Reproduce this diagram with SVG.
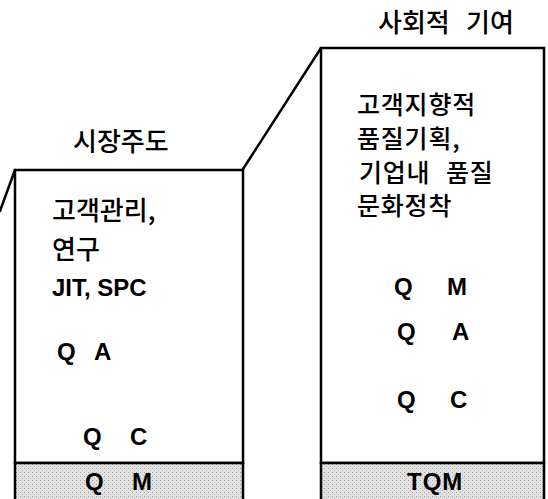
<svg xmlns="http://www.w3.org/2000/svg" width="548" height="499" viewBox="0 0 548 499">
<style>
.box{fill:#fff;stroke:#000;stroke-width:2.5}
.band{fill:url(#dots);stroke:#000;stroke-width:2.5}
.ln{stroke:#000;stroke-width:2.5;fill:none;stroke-linecap:round}
.ko{font-family:"Noto Sans CJK KR","Noto Sans",sans-serif;font-size:26px;font-weight:500;fill:#000}
.kr{font-family:"Noto Sans CJK KR","Noto Sans",sans-serif;font-size:25px;font-weight:500;fill:#000;letter-spacing:0.8px}
.la{font-family:"Liberation Sans",Arial,sans-serif;font-size:24px;font-weight:bold;fill:#000}
</style>
<defs>
<pattern id="dots" width="4" height="4" patternUnits="userSpaceOnUse">
<rect width="4" height="4" fill="#e2e2e2"/>
<rect x="0" y="0" width="1" height="1" fill="#a0a0a0"/>
<rect x="2" y="2" width="1" height="1" fill="#b8b8b8"/>
</pattern>
</defs>
<rect width="548" height="499" fill="#fff"/>
<g id="connectors">
<line class="ln" x1="15" y1="170" x2="0" y2="211"/>
<line class="ln" x1="243" y1="169" x2="321" y2="48"/>
</g>
<g id="node-left">
<rect class="box" x="15" y="170" width="228" height="293"/>
<rect class="band" x="15" y="463" width="228" height="40"/>
<text class="ko" x="73" y="151">시장주도</text>
<text class="ko" x="52" y="220">고객관리,</text>
<text class="ko" x="52" y="259">연구</text>
<text class="la" x="52" y="296" font-size="25">JIT, SPC</text>
<text class="la" y="360"><tspan x="57">Q</tspan><tspan x="94">A</tspan></text>
<text class="la" y="445"><tspan x="83">Q</tspan><tspan x="130">C</tspan></text>
<text class="la" y="490"><tspan x="85">Q</tspan><tspan x="132">M</tspan></text>
</g>
<g id="node-right">
<rect class="box" x="321" y="48" width="223" height="415"/>
<rect class="band" x="321" y="463" width="223" height="40"/>
<text class="ko" y="32"><tspan x="378">사회적</tspan><tspan x="466">기여</tspan></text>
<text class="kr" x="357" y="114">고객지향적</text>
<text class="kr" x="357" y="148">품질기획,</text>
<text class="kr" x="359" y="182">기업내<tspan x="446">품질</tspan></text>
<text class="kr" x="357" y="215">문화정착</text>
<text class="la" y="295"><tspan x="394">Q</tspan><tspan x="447">M</tspan></text>
<text class="la" y="340"><tspan x="397">Q</tspan><tspan x="452">A</tspan></text>
<text class="la" y="408"><tspan x="397">Q</tspan><tspan x="450">C</tspan></text>
<text class="la" x="407" y="490" letter-spacing="1">TQM</text>
</g>
</svg>
